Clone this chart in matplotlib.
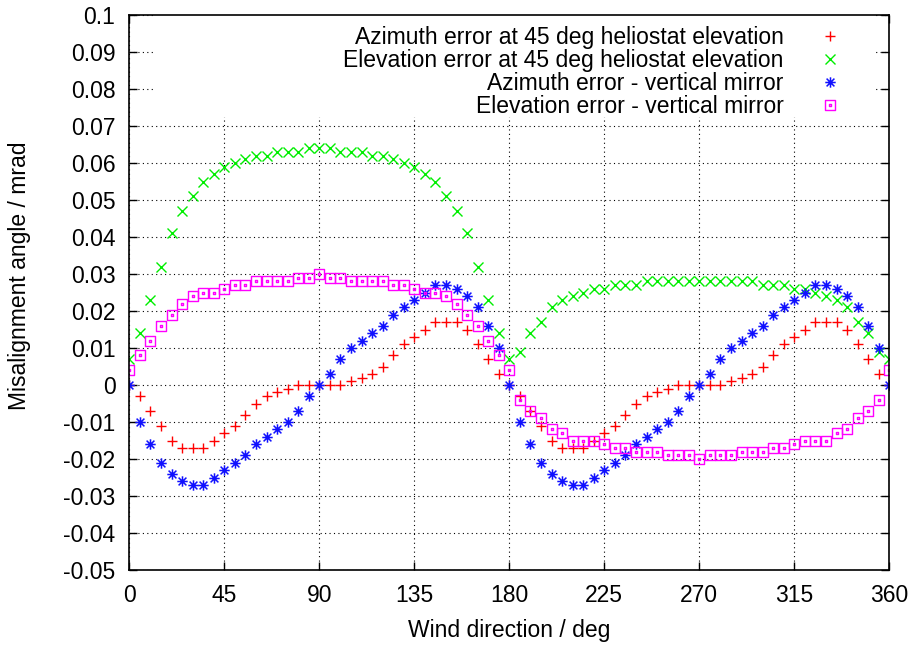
import matplotlib
matplotlib.use('Agg')
import matplotlib.pyplot as plt
from matplotlib.path import Path
from matplotlib.patches import Rectangle

plt.rcParams['font.family'] = ['Liberation Sans', 'DejaVu Sans']

wind_deg = list(range(0, 361, 5))

az_45 = [0, -0.003, -0.007, -0.011, -0.015, -0.017, -0.017, -0.017, -0.015, -0.013,
         -0.011, -0.008, -0.005, -0.003, -0.002, -0.001, 0, 0, 0, 0,
         0, 0.001, 0.002, 0.003, 0.005, 0.008, 0.011, 0.013, 0.015, 0.017,
         0.017, 0.017, 0.015, 0.011, 0.007, 0.003, 0,
         -0.003, -0.007, -0.011, -0.015, -0.017, -0.017, -0.017, -0.015, -0.013,
         -0.011, -0.008, -0.005, -0.003, -0.002, -0.001, 0, 0, 0, 0,
         0, 0.001, 0.002, 0.003, 0.005, 0.008, 0.011, 0.013, 0.015, 0.017,
         0.017, 0.017, 0.015, 0.011, 0.007, 0.003, 0]

el_45 = [0.007, 0.014, 0.023, 0.032, 0.041, 0.047, 0.051, 0.055, 0.057, 0.059,
         0.060, 0.061, 0.062, 0.062, 0.063, 0.063, 0.063, 0.064, 0.064, 0.064,
         0.063, 0.063, 0.063, 0.062, 0.062, 0.061, 0.060, 0.059, 0.057, 0.055,
         0.051, 0.047, 0.041, 0.032, 0.023, 0.014, 0.007,
         0.009, 0.014, 0.017, 0.021, 0.023, 0.024, 0.025, 0.026, 0.026,
         0.027, 0.027, 0.027, 0.028, 0.028, 0.028, 0.028, 0.028, 0.028, 0.028,
         0.028, 0.028, 0.028, 0.028, 0.027, 0.027, 0.027, 0.026, 0.026, 0.025,
         0.024, 0.023, 0.021, 0.017, 0.014, 0.009, 0.007]

az_vert = [0, -0.010, -0.016, -0.021, -0.024, -0.026, -0.027, -0.027, -0.025, -0.023,
           -0.021, -0.019, -0.016, -0.014, -0.012, -0.010, -0.007, -0.003, 0, 0.003,
           0.007, 0.010, 0.012, 0.014, 0.016, 0.019, 0.021, 0.023, 0.025, 0.027,
           0.027, 0.026, 0.024, 0.021, 0.016, 0.010, 0,
           -0.010, -0.016, -0.021, -0.024, -0.026, -0.027, -0.027, -0.025, -0.023,
           -0.021, -0.019, -0.016, -0.014, -0.012, -0.010, -0.007, -0.003, 0, 0.003,
           0.007, 0.010, 0.012, 0.014, 0.016, 0.019, 0.021, 0.023, 0.025, 0.027,
           0.027, 0.026, 0.024, 0.021, 0.016, 0.010, 0]

el_vert = [0.004, 0.008, 0.012, 0.016, 0.019, 0.022, 0.024, 0.025, 0.025, 0.026,
           0.027, 0.027, 0.028, 0.028, 0.028, 0.028, 0.029, 0.029, 0.030, 0.029,
           0.029, 0.028, 0.028, 0.028, 0.028, 0.027, 0.027, 0.026, 0.025, 0.025,
           0.024, 0.022, 0.019, 0.016, 0.012, 0.008, 0.004,
           -0.004, -0.007, -0.009, -0.012, -0.013, -0.015, -0.015, -0.015, -0.016,
           -0.017, -0.017, -0.018, -0.018, -0.018, -0.019, -0.019, -0.019, -0.020, -0.019,
           -0.019, -0.019, -0.018, -0.018, -0.018, -0.017, -0.017, -0.016, -0.015, -0.015,
           -0.015, -0.013, -0.012, -0.009, -0.007, -0.004, 0.004]

labels = ['Azimuth error at 45 deg heliostat elevation',
          'Elevation error at 45 deg heliostat elevation',
          'Azimuth error - vertical mirror',
          'Elevation error - vertical mirror']

x_ticks = [0, 45, 90, 135, 180, 225, 270, 315, 360]
y_ticks = [-0.05, -0.04, -0.03, -0.02, -0.01, 0, 0.01, 0.02, 0.03, 0.04,
           0.05, 0.06, 0.07, 0.08, 0.09, 0.1]
y_tick_labels = ['-0.05', '-0.04', '-0.03', '-0.02', '-0.01', '0', '0.01', '0.02',
                 '0.03', '0.04', '0.05', '0.06', '0.07', '0.08', '0.09', '0.1']

# custom gnuplot-like markers
d = 0.75
star_path = Path([(-1, 0), (1, 0), (0, -1), (0, 1), (-d, -d), (d, d), (-d, d), (d, -d)],
                 [Path.MOVETO, Path.LINETO] * 4)
s = 0.12
sq_path = Path([(-1, -1), (1, -1), (1, 1), (-1, 1), (-1, -1),
                (-s, -s), (s, -s), (s, s), (-s, s), (-s, -s)],
               [Path.MOVETO, Path.LINETO, Path.LINETO, Path.LINETO, Path.CLOSEPOLY] * 2)

W, H = 914, 646
fig = plt.figure(figsize=(W / 100, H / 100), dpi=100)
ax = fig.add_axes([129.3 / W, (H - 570) / H, 760 / W, 555 / H])

fs = 16.5
ax.plot(wind_deg, az_45, linestyle='none', marker='+', color='#ff0000',
        markersize=7, markeredgewidth=1.0, label=labels[0])
ax.plot(wind_deg, el_45, linestyle='none', marker='x', color='#00ee00',
        markersize=6.5, markeredgewidth=1.0, label=labels[1])
ax.plot(wind_deg, az_vert, linestyle='none', marker=star_path, color='#0000ff',
        markerfacecolor='none', markeredgecolor='#1010ff',
        markersize=7.5, markeredgewidth=1.1, label=labels[2])
ax.plot(wind_deg, el_vert, linestyle='none', marker=sq_path, color='#ff00ff',
        markerfacecolor='none', markeredgecolor='#ff00ff',
        markersize=7.5, markeredgewidth=1.0, label=labels[3])

ax.set_xlim(0, 360)
ax.set_ylim(-0.05, 0.1)
ax.set_xticks(x_ticks)
ax.set_xticklabels([str(v) for v in x_ticks])
ax.set_yticks(y_ticks)
ax.set_yticklabels(y_tick_labels)
ax.tick_params(direction='in', length=6, width=1, top=True, right=True,
               labelsize=fs, colors='black')
ax.tick_params(axis='x', pad=10)
ax.tick_params(axis='y', pad=10)
ax.set_axisbelow(True)
ax.grid(True, color='black', linestyle=(0, (1, 3)), linewidth=0.8)
for sp in ax.spines.values():
    sp.set_linewidth(1.2)

# opaque key area hiding the grid
ax.add_patch(Rectangle((0.031, 0.816), 0.9515, 0.184, transform=ax.transAxes,
                       facecolor='white', edgecolor='none', zorder=1))

leg = ax.legend(loc='upper right', bbox_to_anchor=(848 / W, (H - 26) / H),
                bbox_transform=fig.transFigure, frameon=False, markerfirst=False,
                fontsize=fs, handlelength=1.6, handletextpad=1.2,
                labelspacing=0.0, borderpad=0, borderaxespad=0)

fig.text(20 / W, (H - 276) / H, 'Misalignment angle / mrad',
         rotation=90, ha='center', va='center', fontsize=fs)
fig.text(509 / W, (H - 630) / H, 'Wind direction / deg',
         ha='center', va='center', fontsize=fs)

fig.savefig('out.png', dpi=100)
